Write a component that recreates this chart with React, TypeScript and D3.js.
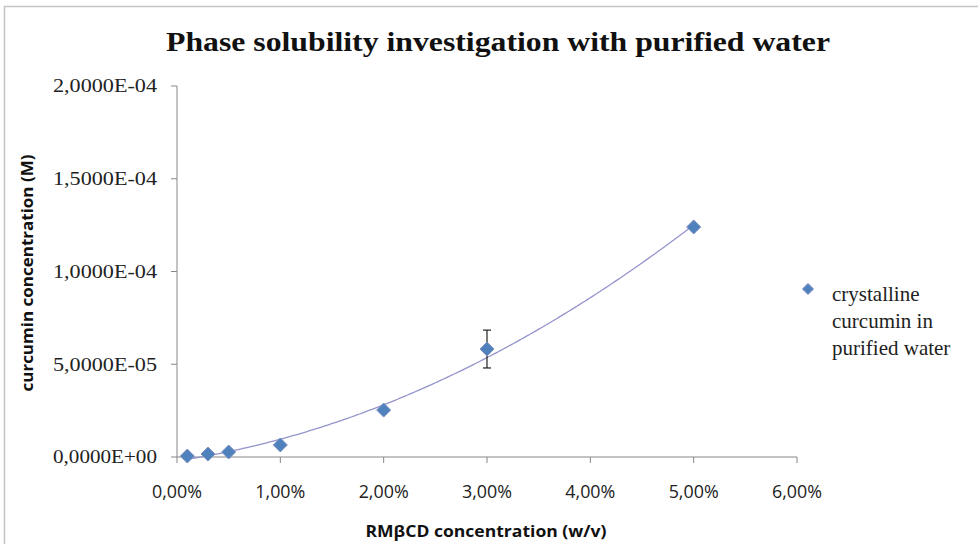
import React from "react";
import * as d3 from "d3";

const W = 978;
const H = 544;

const concentrations = [0.001, 0.003, 0.005, 0.01, 0.02, 0.03, 0.05];
const solubility = [0.5e-6, 1.6e-6, 2.7e-6, 6.5e-6, 2.53e-5, 5.82e-5, 1.24e-4];
const errors = [0, 0, 0, 0, 0, 1.02e-5, 0];
const xTicks = [0, 0.01, 0.02, 0.03, 0.04, 0.05, 0.06];
const yTicks = [0, 5e-5, 1e-4, 1.5e-4, 2e-4];
const titleText = "Phase solubility investigation with purified water";
const xTitle = "RMβCD concentration (w/v)";
const yTitle = "curcumin concentration (M)";
const legendLines = ["crystalline", "curcumin in", "purified water"];

function quadFit(xs: number[], ys: number[]) {
  // least squares y = a + b x + c x^2
  const n = xs.length;
  let s = [0, 0, 0, 0, 0];
  let t = [0, 0, 0];
  for (let i = 0; i < n; i++) {
    const x = xs[i];
    const y = ys[i];
    for (let k = 0; k < 5; k++) s[k] += Math.pow(x, k);
    for (let k = 0; k < 3; k++) t[k] += y * Math.pow(x, k);
  }
  const A = [
    [s[0], s[1], s[2], t[0]],
    [s[1], s[2], s[3], t[1]],
    [s[2], s[3], s[4], t[2]],
  ];
  for (let i = 0; i < 3; i++) {
    let p = i;
    for (let r = i + 1; r < 3; r++) if (Math.abs(A[r][i]) > Math.abs(A[p][i])) p = r;
    [A[i], A[p]] = [A[p], A[i]];
    for (let r = 0; r < 3; r++) {
      if (r === i) continue;
      const f = A[r][i] / A[i][i];
      for (let c = i; c < 4; c++) A[r][c] -= f * A[i][c];
    }
  }
  return [A[0][3] / A[0][0], A[1][3] / A[1][1], A[2][3] / A[2][2]];
}

function fmtY(v: number) {
  const s = v.toExponential(4).toUpperCase(); // e.g. 2.0000E-4
  const m = s.match(/^(-?[\d.]+)E([+-])(\d+)$/);
  if (!m) return s;
  const mant = m[1].replace(".", ",");
  const exp = m[3].padStart(2, "0");
  return `${mant}E${m[2]}${exp}`;
}
function fmtX(v: number) {
  return (v * 100).toFixed(2).replace(".", ",") + "%";
}

export default function App() {
  const x = d3.scaleLinear().domain([0, 0.06]).range([177, 797]);
  const y = d3.scaleLinear().domain([0, 2e-4]).range([457, 86]);
  const [a, b, c] = quadFit(concentrations, solubility);
  const ext = d3.extent(concentrations) as [number, number];
  const fitX = d3.range(0, 201).map((i) => ext[0] + ((ext[1] - ext[0]) * i) / 200);
  const line = d3
    .line<number>()
    .x((d) => x(d))
    .y((d) => y(a + b * d + c * d * d))
    .curve(d3.curveLinear);
  const diamond = (cx: number, cy: number, r: number) =>
    `M${cx},${cy - r}L${cx + r},${cy}L${cx},${cy + r}L${cx - r},${cy}Z`;
  const axisColor = "#878787";
  const serif = "'Liberation Serif', 'DejaVu Serif', serif";
  const sans = "'Open Sans', 'Liberation Sans', sans-serif";

  return (
    <svg
      width={W}
      height={H}
      style={{ position: "absolute", left: 0, top: 0, background: "#fff" }}
    >
      <rect x={4.5} y={6.5} width={W + 10} height={H + 10} fill="#fff" stroke="#c4c4c4" strokeWidth={1.5} />
      <text
        x={498}
        y={51}
        textAnchor="middle"
        fontFamily={serif}
        fontWeight="bold"
        fontSize={27}
        textLength={664}
        lengthAdjust="spacingAndGlyphs"
        fill="#111"
      >
        {titleText}
      </text>
      {/* axes */}
      <line x1={177} x2={177} y1={y(2e-4)} y2={y(0)} stroke={axisColor} />
      <line x1={177} x2={797} y1={457} y2={457} stroke={axisColor} />
      {yTicks.map((t) => (
        <g key={"y" + t}>
          <line x1={171} x2={177} y1={y(t)} y2={y(t)} stroke={axisColor} />
          <text
            x={157}
            y={y(t)}
            dy="0.35em"
            textAnchor="end"
            fontFamily={serif}
            fontSize={18}
            textLength={104}
            lengthAdjust="spacingAndGlyphs"
            fill="#222"
          >
            {fmtY(t)}
          </text>
        </g>
      ))}
      {xTicks.map((t) => (
        <g key={"x" + t}>
          <line x1={x(t)} x2={x(t)} y1={457} y2={463} stroke={axisColor} />
          <text
            x={x(t)}
            y={492}
            dy="0.35em"
            textAnchor="middle"
            fontFamily={sans}
            fontSize={17.5}
            textLength={50}
            lengthAdjust="spacingAndGlyphs"
            fill="#222"
          >
            {fmtX(t)}
          </text>
        </g>
      ))}
      <text
        x={486}
        y={531}
        dy="0.35em"
        textAnchor="middle"
        fontFamily={sans}
        fontWeight="bold"
        fontSize={16.5}
        textLength={241}
        lengthAdjust="spacingAndGlyphs"
        fill="#111"
      >
        {xTitle}
      </text>
      <text
        transform={`translate(27,273) rotate(-90)`}
        dy="0.35em"
        textAnchor="middle"
        fontFamily={sans}
        fontWeight="bold"
        fontSize={16.5}
        textLength={237}
        lengthAdjust="spacingAndGlyphs"
        fill="#111"
      >
        {yTitle}
      </text>
      {/* trendline */}
      <path d={line(fitX) || ""} fill="none" stroke="#9494cc" strokeWidth={1.3} />
      {/* error bars */}
      {concentrations.map((cx, i) =>
        errors[i] > 0 ? (
          <g key={"e" + i} stroke="#222" strokeWidth={1.2}>
            <line x1={x(cx)} x2={x(cx)} y1={y(solubility[i] + errors[i])} y2={y(solubility[i] - errors[i])} />
            <line x1={x(cx) - 4} x2={x(cx) + 4} y1={y(solubility[i] + errors[i])} y2={y(solubility[i] + errors[i])} />
            <line x1={x(cx) - 4} x2={x(cx) + 4} y1={y(solubility[i] - errors[i])} y2={y(solubility[i] - errors[i])} />
          </g>
        ) : null
      )}
      {/* markers */}
      {concentrations.map((cx, i) => (
        <path
          key={"m" + i}
          d={diamond(x(cx), y(solubility[i]), 7)}
          fill="#4f81bd"
          stroke="#7a8fc0"
          strokeWidth={1}
        />
      ))}
      {/* legend */}
      <path d={diamond(808, 289, 5.5)} fill="#4f81bd" stroke="#7a8fc0" strokeWidth={1} />
      {legendLines.map((l, i) => (
        <text
          key={l}
          x={832}
          y={294 + i * 27}
          dy="0.35em"
          fontFamily={serif}
          fontSize={21}
          fill="#222"
        >
          {l}
        </text>
      ))}
    </svg>
  );
}
